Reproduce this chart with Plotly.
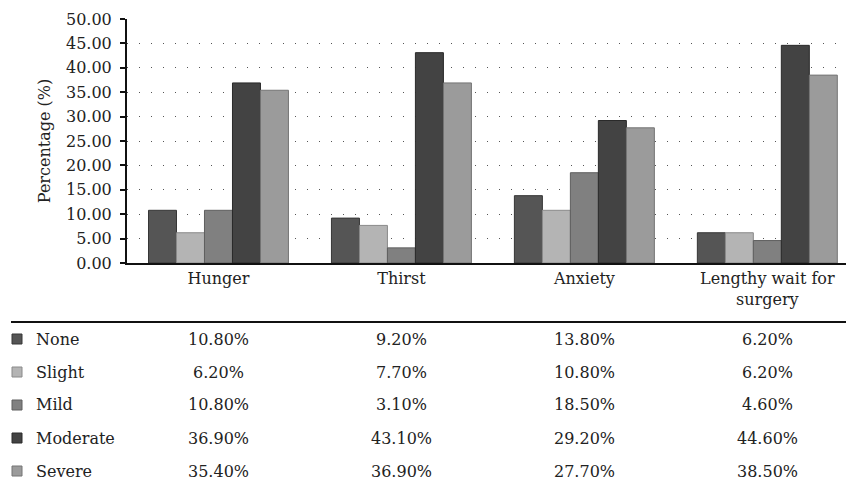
import plotly.graph_objects as go

categories = ["Hunger", "Thirst", "Anxiety", "Lengthy wait for<br>surgery"]
series_names = ["None", "Slight", "Mild", "Moderate", "Severe"]
none_vals = [10.80, 9.20, 13.80, 6.20]
slight_vals = [6.20, 7.70, 10.80, 6.20]
mild_vals = [10.80, 3.10, 18.50, 4.60]
moderate_vals = [36.90, 43.10, 29.20, 44.60]
severe_vals = [35.40, 36.90, 27.70, 38.50]
y_ticks = [0, 5, 10, 15, 20, 25, 30, 35, 40, 45, 50]

series_vals = [none_vals, slight_vals, mild_vals, moderate_vals, severe_vals]
colors = ["#555555", "#b4b4b4", "#808080", "#434343", "#9b9b9b"]
edge = ["#363636", "#8a8a8a", "#5e5e5e", "#2a2a2a", "#747474"]

W, H = 846, 483
L, T = 127, 19
B = H - 263
R = 0
FONT = "DejaVu Serif"


def py(ypx):
    # pixel row -> paper y
    return (H - B - ypx) / (H - T - B)


def px(xpx):
    return (xpx - L) / (W - L - R)


fig = go.Figure()
for name, vals, c, e in zip(series_names, series_vals, colors, edge):
    fig.add_trace(go.Bar(x=categories, y=vals, name=name,
                         marker=dict(color=c, line=dict(color=e, width=1))))

fig.update_layout(
    width=W, height=H,
    margin=dict(l=L, r=R, t=T, b=B),
    barmode="group", bargap=0.235, bargroupgap=0,
    plot_bgcolor="white", paper_bgcolor="white",
    showlegend=False,
    font=dict(family=FONT, size=16, color="#222"),
)
fig.update_yaxes(
    range=[0, 50], tickvals=y_ticks, tickformat=".2f",
    showline=True, linecolor="#111", linewidth=2,
    ticks="outside", ticklen=5, tickcolor="#111", tickwidth=2,
    ticklabelstandoff=5,
    showgrid=True, gridcolor="#555", gridwidth=1, griddash="1px,11px",
    zeroline=False,
    title=dict(text="Percentage (%)", standoff=11, font=dict(size=16)),
)
fig.update_xaxes(
    range=[-0.5, 3.43],
    showline=True, linecolor="#111", linewidth=2,
    showgrid=False, ticks="", tickfont=dict(size=16),
)

# data table under the chart
fig.add_shape(type="line", xref="paper", yref="paper",
              x0=px(11), x1=1, y0=py(322), y1=py(322),
              line=dict(color="#111", width=2))
row_y = [339, 372, 405, 438, 471]
for name, vals, c, e, ry in zip(series_names, series_vals, colors, edge, row_y):
    fig.add_shape(type="rect", xref="paper", yref="paper",
                  x0=px(12), x1=px(22), y0=py(ry + 5), y1=py(ry - 5),
                  fillcolor=c, line=dict(color=e, width=1))
    fig.add_annotation(text=name, xref="paper", yref="paper",
                       x=px(34), y=py(ry), xanchor="left", yanchor="middle",
                       showarrow=False, font=dict(size=16))
    for cat, v in zip(categories, vals):
        fig.add_annotation(text=f"{v:.2f}%", xref="x", yref="paper",
                           x=cat, y=py(ry), xanchor="center", yanchor="middle",
                           showarrow=False, font=dict(size=16))

# drop the default page margin so the figure fills the window
fig.write_html("out.html", config={"displayModeBar": False},
               post_script="document.body.style.margin='0';")
